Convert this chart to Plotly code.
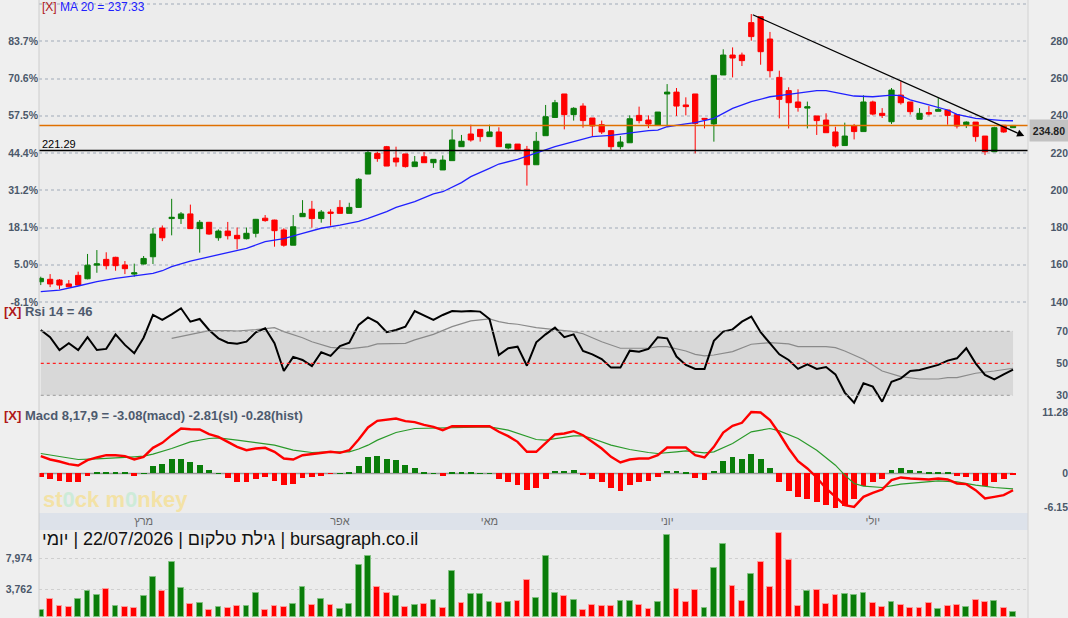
import plotly.graph_objects as go

# ---- price candles (daily, oldest first) ----
opens = [150.9, 152.2, 151.8, 149.7, 154.3, 152.5, 159.8, 162.9, 164.0, 159.9,
         155.0, 160.4, 164.3, 179.7, 184.8, 184.8, 187.3, 179.4, 182.8, 174.5,
         178.1, 175.8, 174.0, 176.9, 185.0, 184.0, 178.7, 170.5, 185.8, 189.8,
         184.8, 188.3, 190.8, 187.6, 190.8, 208.7, 219.8, 223.4, 217.3, 219.5,
         212.7, 218.0, 214.8, 210.9, 215.9, 223.4, 230.2, 232.7, 228.8, 231.3,
         222.7, 224.8, 222.0, 213.7, 229.3, 239.1, 251.7, 240.6, 245.2, 238.8,
         235.2, 232.0, 223.4, 225.5, 240.2, 237.7, 234.9, 251.7, 252.7, 245.8,
         251.7, 238.6, 235.6, 261.9, 272.6, 272.6, 290.0, 293.2, 281.2, 260.6,
         253.5, 247.4, 244.1, 239.9, 237.7, 231.3, 224.0, 234.5, 231.5, 247.4,
         241.3, 236.8, 251.1, 247.4, 238.1, 241.7, 242.4, 243.1, 240.6, 235.2,
         236.6, 229.1, 220.7, 234.9, 233.6]
highs = [153.6, 155.0, 152.3, 151.8, 156.3, 165.8, 167.9, 166.7, 164.3, 162.0,
         160.6, 164.7, 179.7, 181.1, 195.4, 188.3, 192.3, 184.0, 183.0, 179.0,
         183.0, 180.0, 180.0, 184.6, 186.7, 184.2, 179.6, 186.7, 194.7, 194.3,
         189.4, 189.8, 194.7, 193.3, 206.5, 221.6, 220.7, 223.8, 223.4, 219.5,
         218.4, 220.5, 216.6, 218.7, 232.7, 229.7, 235.2, 232.7, 235.2, 233.8,
         224.8, 224.8, 223.8, 231.3, 245.8, 248.5, 251.7, 244.6, 246.7, 238.8,
         237.4, 232.3, 229.1, 240.2, 244.9, 240.2, 242.0, 257.0, 254.9, 249.9,
         251.7, 238.6, 261.7, 275.7, 276.7, 273.9, 294.6, 293.2, 285.0, 264.2,
         255.3, 254.2, 247.6, 239.9, 241.3, 234.1, 236.3, 235.6, 251.0, 248.1,
         244.1, 254.9, 258.5, 247.4, 244.1, 245.2, 249.5, 243.1, 240.6, 237.0,
         236.6, 229.1, 234.1, 234.9, 234.9]
lows = [149.1, 148.0, 146.8, 147.9, 148.8, 152.2, 155.7, 157.5, 156.8, 155.0,
        153.6, 160.2, 160.4, 172.7, 175.8, 181.9, 179.2, 166.5, 176.1, 172.9,
        173.6, 168.3, 173.6, 174.7, 183.1, 169.7, 169.7, 170.5, 185.8, 179.9,
        182.6, 181.0, 187.6, 187.6, 190.5, 208.7, 215.3, 213.0, 212.7, 212.2,
        212.7, 214.8, 212.0, 210.9, 215.9, 223.4, 226.1, 226.1, 228.8, 223.4,
        222.0, 221.3, 202.5, 213.7, 229.3, 239.1, 232.7, 237.4, 233.6, 228.8,
        230.2, 221.3, 222.0, 225.5, 235.9, 233.4, 234.9, 234.1, 239.9, 240.2,
        219.8, 233.2, 226.1, 261.9, 260.6, 266.7, 280.3, 267.4, 260.6, 238.6,
        233.2, 242.2, 233.2, 229.7, 230.9, 223.0, 224.0, 227.3, 231.5, 240.2,
        238.8, 235.6, 246.0, 240.6, 238.1, 240.2, 242.4, 235.2, 233.2, 233.4,
        226.1, 218.9, 220.7, 230.9, 233.6]
closes = [152.7, 149.7, 149.1, 148.2, 149.1, 159.8, 160.5, 159.5, 159.5, 157.9,
          155.7, 163.4, 176.5, 174.5, 185.5, 187.3, 179.4, 182.8, 176.5, 178.1,
          175.6, 174.0, 176.9, 184.4, 183.7, 178.3, 170.5, 180.4, 187.6, 184.8,
          188.3, 187.6, 187.6, 190.8, 205.9, 220.2, 217.0, 213.0, 215.2, 212.7,
          215.2, 214.8, 216.6, 216.2, 227.0, 226.3, 227.0, 228.8, 231.3, 223.4,
          224.8, 221.3, 213.7, 226.3, 239.5, 247.0, 240.6, 244.0, 237.4, 234.5,
          231.3, 223.4, 225.9, 238.4, 237.4, 235.6, 242.0, 252.7, 245.2, 244.9,
          235.9, 238.1, 261.7, 272.6, 271.0, 269.6, 282.5, 274.4, 264.2, 248.8,
          247.0, 244.5, 244.8, 237.4, 230.9, 223.8, 229.1, 231.5, 247.4, 240.9,
          240.2, 253.8, 247.0, 242.2, 241.3, 240.9, 243.4, 240.2, 234.5, 236.6,
          228.8, 220.7, 233.6, 231.3, 234.8]
days = list(range(len(closes)))

# MA 20 (bar index, value)
ma_idx = [0, 2, 4, 6, 8, 10, 12, 13, 14, 16, 18, 20, 22, 24, 26, 28, 30, 32, 34, 35,
          37, 38, 40, 42, 43, 45, 46, 48, 49, 51, 52, 53, 55, 57, 59, 61, 63, 65, 66, 67,
          69, 70, 72, 74, 76, 78, 80, 82, 83, 84, 86, 87, 89, 91, 92, 93, 95, 97, 98, 100,
          103, 104]
ma_val = [145.6, 146.4, 148.6, 150.9, 152.7, 154.0, 155.4, 156.8, 159.0, 162.0,
          164.4, 166.7, 168.8, 172.4, 174.0, 176.9, 179.6, 181.3, 183.3, 184.9,
          188.5, 190.8, 193.9, 198.0, 199.2, 204.1, 207.3, 211.8, 214.1, 216.6,
          218.4, 220.2, 223.4, 226.1, 228.8, 229.5, 230.9, 232.0, 232.3, 234.1,
          235.6, 236.3, 238.6, 244.0, 247.6, 250.2, 251.5, 252.9, 253.5, 253.5,
          251.7, 250.6, 250.2, 251.1, 250.8, 248.5, 245.8, 243.1, 240.8, 238.6,
          237.4, 237.33]

last_price = 234.80
support_price = 221.29
trend_idx = [76, 105.2]
trend_val = [294.6, 229.1]

price_ticks = [140, 160, 180, 200, 220, 240, 260, 280, 300]
price_labels = ["140", "160", "180", "200", "220", "240", "260", "280", ""]
pct_labels = ["-8.1%", "5.0%", "18.1%", "31.2%", "44.4%", "57.5%", "70.6%", "83.7%", ""]

# ---- RSI 14 ----
rsi = [70.8, 66.3, 58.3, 62.5, 58.3, 66.3, 58.3, 59.0, 68.1, 61.5,
       56.3, 66.0, 80.2, 77.1, 80.6, 84.4, 76.0, 77.7, 70.8, 65.6,
       62.9, 62.3, 63.5, 69.4, 71.9, 62.5, 45.2, 54.0, 52.1, 48.3,
       56.9, 54.6, 60.8, 62.9, 74.0, 78.7, 75.6, 69.4, 70.8, 72.9,
       82.7, 79.8, 77.1, 80.2, 82.7, 82.3, 82.7, 82.3, 77.7, 55.2,
       59.4, 60.4, 48.5, 63.1, 68.1, 72.3, 66.3, 68.1, 57.7, 55.6,
       52.7, 47.3, 47.3, 57.9, 57.3, 59.0, 66.3, 65.6, 54.2, 49.0,
       46.5, 46.5, 64.0, 69.8, 71.2, 76.0, 79.2, 69.4, 62.5, 55.6,
       52.1, 46.5, 49.4, 46.5, 47.7, 43.1, 31.7, 25.4, 37.5, 35.4,
       26.0, 38.5, 40.6, 45.2, 45.8, 47.3, 49.0, 51.7, 53.1, 59.4,
       50.0, 42.7, 40.0, 43.1, 46.0]
rsi_ma_idx = [14, 16, 18, 20, 21, 23, 25, 26, 28, 29, 31, 33, 35, 36, 38, 39, 40, 42, 44, 46,
              48, 49, 50, 51, 53, 55, 57, 58, 60, 62, 65, 66, 67, 69, 70, 71, 72, 74, 76, 78,
              80, 81, 84, 85, 86, 88, 90, 92, 94, 96, 97, 98, 100, 102, 104]
rsi_ma_val = [65.6, 68.1, 70.4, 70.4, 70.2, 71.0, 72.3, 69.8, 66.0, 63.5,
              60.0, 59.0, 60.4, 62.1, 62.1, 62.5, 64.6, 68.1, 72.9, 76.5,
              77.7, 76.0, 75.0, 74.4, 72.3, 71.2, 69.8, 68.5, 63.5, 59.4,
              59.4, 60.4, 60.4, 57.7, 55.6, 54.6, 55.2, 57.3, 61.9, 62.9,
              62.1, 60.4, 60.4, 59.8, 57.7, 52.5, 45.2, 41.7, 40.2, 40.2,
              41.0, 41.0, 43.8, 45.2, 46.9]

# ---- MACD 8,17,9 ----
macd = [3.18, 2.57, 2.20, 1.71, 1.47, 2.45, 2.94, 3.36, 3.36, 3.18,
        2.57, 3.06, 4.71, 5.63, 7.03, 8.26, 8.13, 8.07, 7.22, 6.73,
        5.81, 4.89, 4.28, 4.59, 4.71, 3.98, 2.75, 2.57, 3.36, 3.55,
        3.79, 3.98, 3.79, 4.28, 6.24, 8.44, 9.66, 9.90, 10.09, 9.60,
        9.42, 8.93, 8.56, 7.95, 8.68, 8.68, 8.68, 8.68, 8.68, 7.65,
        6.85, 5.81, 3.98, 3.98, 5.50, 7.16, 7.34, 7.77, 7.03, 5.81,
        4.59, 3.06, 2.02, 2.57, 2.75, 2.75, 3.36, 4.77, 4.77, 4.77,
        3.36, 2.94, 4.89, 7.52, 8.75, 9.30, 11.28, 11.20, 9.79, 7.34,
        4.59, 2.26, 0.92, -0.73, -2.75, -4.28, -5.81, -6.12, -4.28, -3.55,
        -2.94, -1.22, -0.73, -0.92, -1.04, -1.10, -0.92, -1.10, -1.83, -1.96,
        -3.06, -4.59, -4.28, -3.98, -3.08]
signal_idx = [0, 2, 4, 6, 8, 10, 11, 12, 14, 16, 18, 19, 21, 23, 25, 27, 29, 31, 33, 34,
              35, 36, 38, 40, 42, 44, 46, 48, 50, 52, 53, 54, 56, 57, 58, 59, 61, 63, 65, 66,
              68, 69, 70, 71, 72, 74, 76, 78, 79, 81, 83, 85, 86, 87, 88, 90, 92, 94, 96, 98,
              100, 102, 104]
signal_val = [3.67, 3.18, 2.57, 2.69, 2.94, 3.06, 3.18, 3.55, 4.59, 5.81,
              6.42, 6.54, 6.12, 5.63, 5.20, 4.28, 3.85, 3.98, 3.98, 4.50,
              5.20, 6.12, 7.52, 8.26, 8.32, 8.44, 8.56, 8.56, 7.95, 6.85,
              6.24, 6.12, 6.73, 6.91, 6.91, 6.42, 5.20, 4.40, 3.85, 3.67,
              3.98, 4.16, 3.98, 3.79, 3.98, 5.50, 7.65, 8.26, 7.83, 6.42,
              4.28, 1.53, -0.31, -1.83, -2.32, -2.57, -1.96, -1.59, -1.35, -1.53,
              -2.14, -2.57, -2.81]
hist = [-0.73, -1.10, -1.35, -1.47, -1.47, -0.49, 0.18, 0.24, 0.24, 0.12,
        -0.49, 0.05, 1.35, 1.71, 2.57, 2.75, 2.14, 1.47, 0.61, 0.03,
        -0.86, -1.47, -1.59, -1.10, -0.73, -1.35, -2.20, -1.84, -0.86, -0.61,
        -0.37, -0.02, 0.02, 0.12, 1.30, 2.94, 3.30, 2.75, 2.39, 1.47,
        0.92, 0.24, 0.02, -0.55, 0.10, 0.10, 0.10, 0.02, 0.02, -0.92,
        -1.47, -2.20, -3.06, -2.57, -0.92, 0.55, 0.55, 0.73, -0.10, -0.92,
        -1.59, -2.75, -3.24, -2.20, -1.59, -1.41, -0.67, 0.55, 0.37, 0.24,
        -0.86, -1.28, 0.55, 2.32, 2.94, 2.75, 3.55, 2.57, 0.92, -1.59,
        -3.18, -4.40, -4.77, -5.26, -5.81, -6.42, -6.00, -4.71, -2.32, -1.47,
        -0.92, 0.73, 1.10, 0.73, 0.43, 0.24, 0.18, 0.12, -0.55, -0.73,
        -1.41, -2.32, -1.65, -1.04, -0.28]

# ---- volume ----
volume = [912, 2462, 1459, 1322, 2462, 3511, 2964, 3785, 1459, 1322,
          1186, 2827, 5426, 3511, 7478, 3922, 1733, 1870, 912, 1322,
          1186, 1459, 1459, 3238, 912, 1459, 1322, 1733, 4058, 1596,
          2462, 1596, 1049, 1733, 7159, 8299, 4058, 3238, 2827, 1322,
          1596, 1733, 2280, 1186, 6247, 1870, 3101, 3101, 2006, 1870,
          2006, 2143, 5062, 2554, 8299, 3238, 2827, 2280, 912, 1596,
          1459, 1459, 2143, 2143, 1596, 1049, 2006, 11172, 3785, 2006,
          3648, 1186, 6658, 9941, 4195, 2143, 5837, 7478, 4058, 11446,
          7752, 1459, 3511, 3648, 1733, 2964, 3101, 2964, 3238, 1870,
          1322, 2006, 1596, 1186, 1186, 1870, 1049, 1459, 1596, 1322,
          2280, 2006, 2143, 1186, 638]
volume_up = [1, 0, 0, 0, 1, 1, 1, 0, 1, 0, 0, 1, 1, 0, 1, 1, 0, 1, 0, 1,
             0, 0, 1, 1, 0, 0, 0, 1, 1, 0, 1, 0, 1, 1, 1, 1, 0, 0, 1, 0,
             1, 0, 1, 0, 1, 0, 1, 1, 1, 0, 1, 0, 0, 1, 1, 1, 0, 1, 0, 0,
             0, 0, 1, 1, 0, 0, 1, 1, 0, 0, 0, 1, 1, 1, 0, 0, 1, 0, 0, 0,
             0, 0, 1, 0, 0, 0, 1, 1, 1, 0, 0, 1, 0, 0, 0, 0, 1, 0, 0, 1,
             0, 0, 1, 0, 1]
volume_ticks = [3762, 7974]
volume_labels = ["3,762", "7,974"]

month_pos = [11, 32, 48, 67, 89]
month_names = ["מרץ", "אפר", "מאי", "יוני", "יולי"]

# ---- layout helpers (pixel rows -> paper fractions) ----
W, H = 1068, 618
ML, MR = 39, 0
PW = W - ML - MR
X_END = (1028 - ML) / PW


def py(px):
    return 1 - px / H


def pxx(px):
    return (px - ML) / PW


GREEN = "#0a7d0a"
RED = "#ff0000"
AXIS_FONT = dict(family="Arial", size=10.5, color="#4b586a", weight="bold")
X_RANGE = [-0.19, 105.6]

fig = go.Figure()

fig.add_trace(go.Candlestick(
    x=days, open=opens, high=highs, low=lows, close=closes,
    xaxis="x", yaxis="y", whiskerwidth=0,
    increasing=dict(line=dict(color=GREEN, width=1), fillcolor=GREEN),
    decreasing=dict(line=dict(color=RED, width=1), fillcolor=RED),
    showlegend=False, hoverinfo="skip",
))
fig.add_trace(go.Scatter(
    x=ma_idx, y=ma_val, xaxis="x", yaxis="y5", mode="lines",
    line=dict(color="#2020ff", width=1.3), showlegend=False, hoverinfo="skip",
))

fig.add_trace(go.Scatter(
    x=rsi_ma_idx, y=rsi_ma_val, xaxis="x2", yaxis="y2", mode="lines",
    line=dict(color="#8a8a8a", width=1.2), showlegend=False, hoverinfo="skip",
))
fig.add_trace(go.Scatter(
    x=days, y=rsi, xaxis="x2", yaxis="y2", mode="lines",
    line=dict(color="#000000", width=2), showlegend=False, hoverinfo="skip",
))

fig.add_trace(go.Bar(
    x=days, y=hist, xaxis="x3", yaxis="y3", width=0.62,
    marker=dict(color=[GREEN if h >= 0 else RED for h in hist], line=dict(width=0)),
    showlegend=False, hoverinfo="skip",
))
fig.add_trace(go.Scatter(
    x=signal_idx, y=signal_val, xaxis="x3", yaxis="y3", mode="lines",
    line=dict(color="#2a9a2a", width=1.2), showlegend=False, hoverinfo="skip",
))
fig.add_trace(go.Scatter(
    x=days, y=macd, xaxis="x3", yaxis="y3", mode="lines",
    line=dict(color=RED, width=2.4), showlegend=False, hoverinfo="skip",
))

fig.add_trace(go.Bar(
    x=days, y=volume, xaxis="x4", yaxis="y4", width=0.62,
    marker=dict(color=[GREEN if u else RED for u in volume_up],
                line=dict(color=["#7fc07f" if u else "#ff9a9a" for u in volume_up], width=1)),
    showlegend=False, hoverinfo="skip",
))

xcommon = dict(domain=[0, X_END], range=X_RANGE, showgrid=False, zeroline=False,
               showticklabels=False, ticks="", fixedrange=True, automargin=False)
ycommon = dict(zeroline=False, ticks="", fixedrange=True, tickfont=AXIS_FONT,
               automargin=False)

fig.update_layout(
    width=W, height=H,
    margin=dict(l=ML, r=MR, t=0, b=0, autoexpand=False),
    paper_bgcolor="#efefef", plot_bgcolor="#ececec",
    boxgap=0.25, boxgroupgap=0.25, bargap=0,
    font=dict(family="Arial"),
    xaxis=dict(xcommon, anchor="y"),
    xaxis2=dict(xcommon, anchor="y2", matches="x"),
    xaxis3=dict(xcommon, anchor="y3", matches="x", showticklabels=True,
                tickvals=month_pos, ticktext=month_names,
                tickfont=dict(family="Arial", size=11, color="#6a6a6a")),
    xaxis4=dict(xcommon, anchor="y4", matches="x"),
    xaxis_rangeslider_visible=False,
    yaxis=dict(ycommon, domain=[py(305), 1], range=[138.4, 302.15],
               anchor="free", position=1, side="left",
               tickvals=price_ticks, ticktext=price_labels,
               showgrid=True, gridcolor="#c6cbd2", gridwidth=2, griddash="dot"),
    yaxis5=dict(ycommon, overlaying="y", anchor="x", side="left",
                range=[138.4, 302.15], tickvals=price_ticks, ticktext=pct_labels,
                showgrid=False),
    yaxis2=dict(ycommon, domain=[py(405), py(305)], range=[23.94, 86.44],
                anchor="free", position=1, side="left",
                tickvals=[30, 50, 70], showgrid=False),
    yaxis3=dict(ycommon, domain=[py(513), py(405)], range=[-7.25, 12.57],
                anchor="free", position=1, side="left",
                tickvals=[-6.15, 0, 11.28], ticktext=["-6.15", "0", "11.28"],
                showgrid=False),
    yaxis4=dict(ycommon, domain=[0, py(530)], range=[-137, 11902],
                anchor="x4", side="left", tickvals=volume_ticks, ticktext=volume_labels,
                ticklabelstandoff=6,
                showgrid=True, gridcolor="#cfcfcf", gridwidth=1, griddash="dot"),
)

last_day = days[-1]
shapes = [
    # month strip
    dict(type="rect", xref="paper", yref="paper", x0=0, x1=X_END, y0=py(530), y1=py(513),
         fillcolor="#dde2ea", line=dict(width=0), layer="below"),
    # RSI band and levels
    dict(type="rect", xref="x2", yref="y2", x0=0, x1=last_day, y0=30, y1=70,
         fillcolor="#d8d8d8", line=dict(width=0), layer="below"),
    dict(type="line", xref="x2", yref="y2", x0=0, x1=last_day, y0=70, y1=70,
         line=dict(color="#9a9a9a", width=1, dash="dot")),
    dict(type="line", xref="x2", yref="y2", x0=0, x1=last_day, y0=30, y1=30,
         line=dict(color="#9a9a9a", width=1, dash="dot")),
    dict(type="line", xref="x2", yref="y2", x0=0, x1=last_day, y0=50, y1=50,
         line=dict(color="#ff2020", width=1.2, dash="dot")),
    # MACD zero
    dict(type="line", xref="x3", yref="y3", x0=0, x1=last_day, y0=0, y1=0,
         line=dict(color="#999999", width=1.5), layer="below"),
    # price levels
    dict(type="line", xref="x domain", yref="y", x0=0, x1=1, y0=last_price, y1=last_price,
         line=dict(color="#e07000", width=1.5)),
    dict(type="line", xref="x domain", yref="y", x0=0, x1=1, y0=support_price, y1=support_price,
         line=dict(color="#000000", width=1.5)),
    # panel borders
    dict(type="line", xref="paper", yref="paper", x0=0, x1=0, y0=0, y1=1,
         line=dict(color="#cccccc", width=1)),
    dict(type="line", xref="paper", yref="paper", x0=X_END, x1=X_END, y0=0, y1=1,
         line=dict(color="#d2d2d2", width=1)),
]
fig.update_layout(shapes=shapes)

ann = [
    dict(xref="paper", yref="paper", x=pxx(40), y=py(7), xanchor="left", yanchor="middle",
         text="<span style='color:#b01818'>[X]</span> MA 20 = 237.33",
         font=dict(size=12, color="#2020ff"), showarrow=False),
    dict(xref="paper", yref="paper", x=pxx(2), y=py(311),
         xanchor="left", yanchor="middle",
         text="<span style='color:#b01818'>[X]</span> Rsi 14 = 46",
         font=dict(size=13, color="#4d5a6e", weight="bold"), showarrow=False),
    dict(xref="paper", yref="paper", x=pxx(2), y=py(415),
         xanchor="left", yanchor="middle",
         text="<span style='color:#b01818'>[X]</span> Macd 8,17,9 = -3.08(macd) -2.81(sl) -0.28(hist)",
         font=dict(size=13, color="#4d5a6e", weight="bold"), showarrow=False),
    dict(xref="paper", yref="y", x=pxx(40), y=support_price, xanchor="left", yanchor="bottom",
         text="221.29", font=dict(size=11, color="#000000"), showarrow=False, yshift=-1),
    dict(xref="paper", yref="y", x=X_END, y=last_price, xanchor="left", yanchor="middle",
         xshift=1, yshift=-5, text="<b>234.80</b>", font=dict(size=10.5, color="#222222"),
         bgcolor="#c2c2c2", borderpad=2, width=34, height=17, showarrow=False),
    dict(xref="paper", yref="paper", x=pxx(40), y=py(539), xanchor="left", yanchor="middle",
         text="יומי\u200e | 22/07/2026 | גילת טלקום\u200e | bursagraph.co.il",
         font=dict(size=18, color="#111111"), showarrow=False),
    dict(xref="paper", yref="paper", x=pxx(115), y=py(499),
         xanchor="center", yanchor="middle",
         text="st<span style='color:#cdebd8'>0</span>ck m<span style='color:#cdebd8'>0</span>nkey",
         font=dict(size=22, color="#f3e2a6", weight="bold"), showarrow=False),
    dict(xref="x", yref="y", axref="x", ayref="y",
         x=trend_idx[1], y=trend_val[1], ax=trend_idx[0], ay=trend_val[0],
         text="", showarrow=True, arrowhead=2, arrowsize=1.2, arrowwidth=1.2,
         arrowcolor="#000000", standoff=0, startstandoff=0),
]
fig.update_layout(annotations=ann)

fig.write_html("out.html", config={"displayModeBar": False},
               post_script="document.body.style.margin='0';")
